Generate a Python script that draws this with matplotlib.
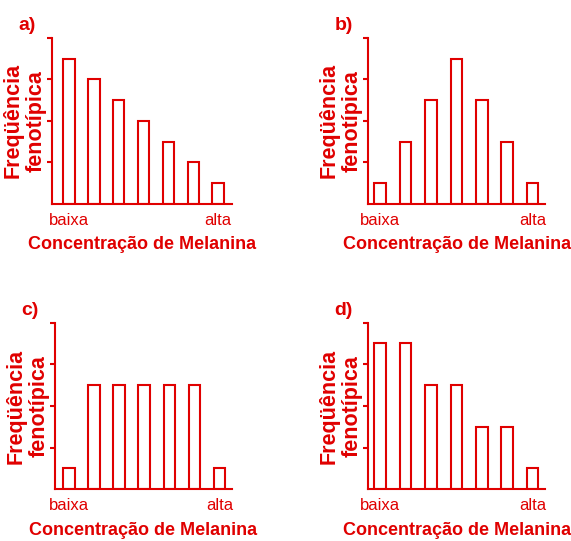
import matplotlib.pyplot as plt

# phenotype classes (7 bars, low -> high melanin)
classes = list(range(7))
tick_pos = [0, 6]
tick_labels = ['baixa', 'alta']

freq_a = [3.5, 3.0, 2.5, 2.0, 1.5, 1.0, 0.5]
freq_b = [0.5, 1.5, 2.5, 3.5, 2.5, 1.5, 0.5]
freq_c = [0.5, 2.5, 2.5, 2.5, 2.5, 2.5, 0.5]
freq_d = [3.5, 3.5, 2.5, 2.5, 1.5, 1.5, 0.5]
panel_names = ['a)', 'b)', 'c)', 'd)']

RED = '#e00000'
plt.rcParams['font.family'] = ['Liberation Sans', 'DejaVu Sans']

fig = plt.figure(figsize=(5.71, 5.41), dpi=100)

# axes boxes in figure fractions [left, bottom, width, height]
boxes = [
    [0.0911, 0.623, 0.315, 0.307],
    [0.645, 0.623, 0.310, 0.307],
    [0.0963, 0.0956, 0.310, 0.308],
    [0.645, 0.0956, 0.310, 0.308],
]
xlims = [(-0.68, 6.55), (-0.47, 6.5), (-0.56, 6.5), (-0.47, 6.5)]

for name, freq, box, xl in zip(panel_names, [freq_a, freq_b, freq_c, freq_d], boxes, xlims):
    ax = fig.add_axes(box)
    ax.bar(classes, freq, width=0.46, facecolor='white', edgecolor=RED, linewidth=1.5)
    ax.set_xlim(*xl)
    ax.set_ylim(0, 4)
    ax.set_yticks([1, 2, 3, 4])
    ax.set_yticklabels([])
    ax.set_xticks(tick_pos)
    ax.set_xticklabels(tick_labels, fontsize=12, color=RED)
    ax.tick_params(axis='x', length=0, pad=6.5)
    ax.tick_params(axis='y', length=3.5, width=1.5, color=RED, direction='out')
    for s in ['top', 'right']:
        ax.spines[s].set_visible(False)
    for s in ['left', 'bottom']:
        ax.spines[s].set_color(RED)
        ax.spines[s].set_linewidth(1.5)
    ax.set_xlabel('Concentração de Melanina', fontsize=13, fontweight='bold',
                  color=RED, labelpad=6)
    ax.set_ylabel('Freqüência\nfenotípica', fontsize=15.5, fontweight='bold',
                  color=RED, linespacing=1.12, labelpad=-3)
    ax.annotate(name, xy=(0, 1), xycoords='axes fraction', xytext=(-34, 4),
                textcoords='offset pixels', fontsize=14, fontweight='bold',
                color=RED, ha='left', va='bottom')

fig.savefig('out.png', dpi=100)
